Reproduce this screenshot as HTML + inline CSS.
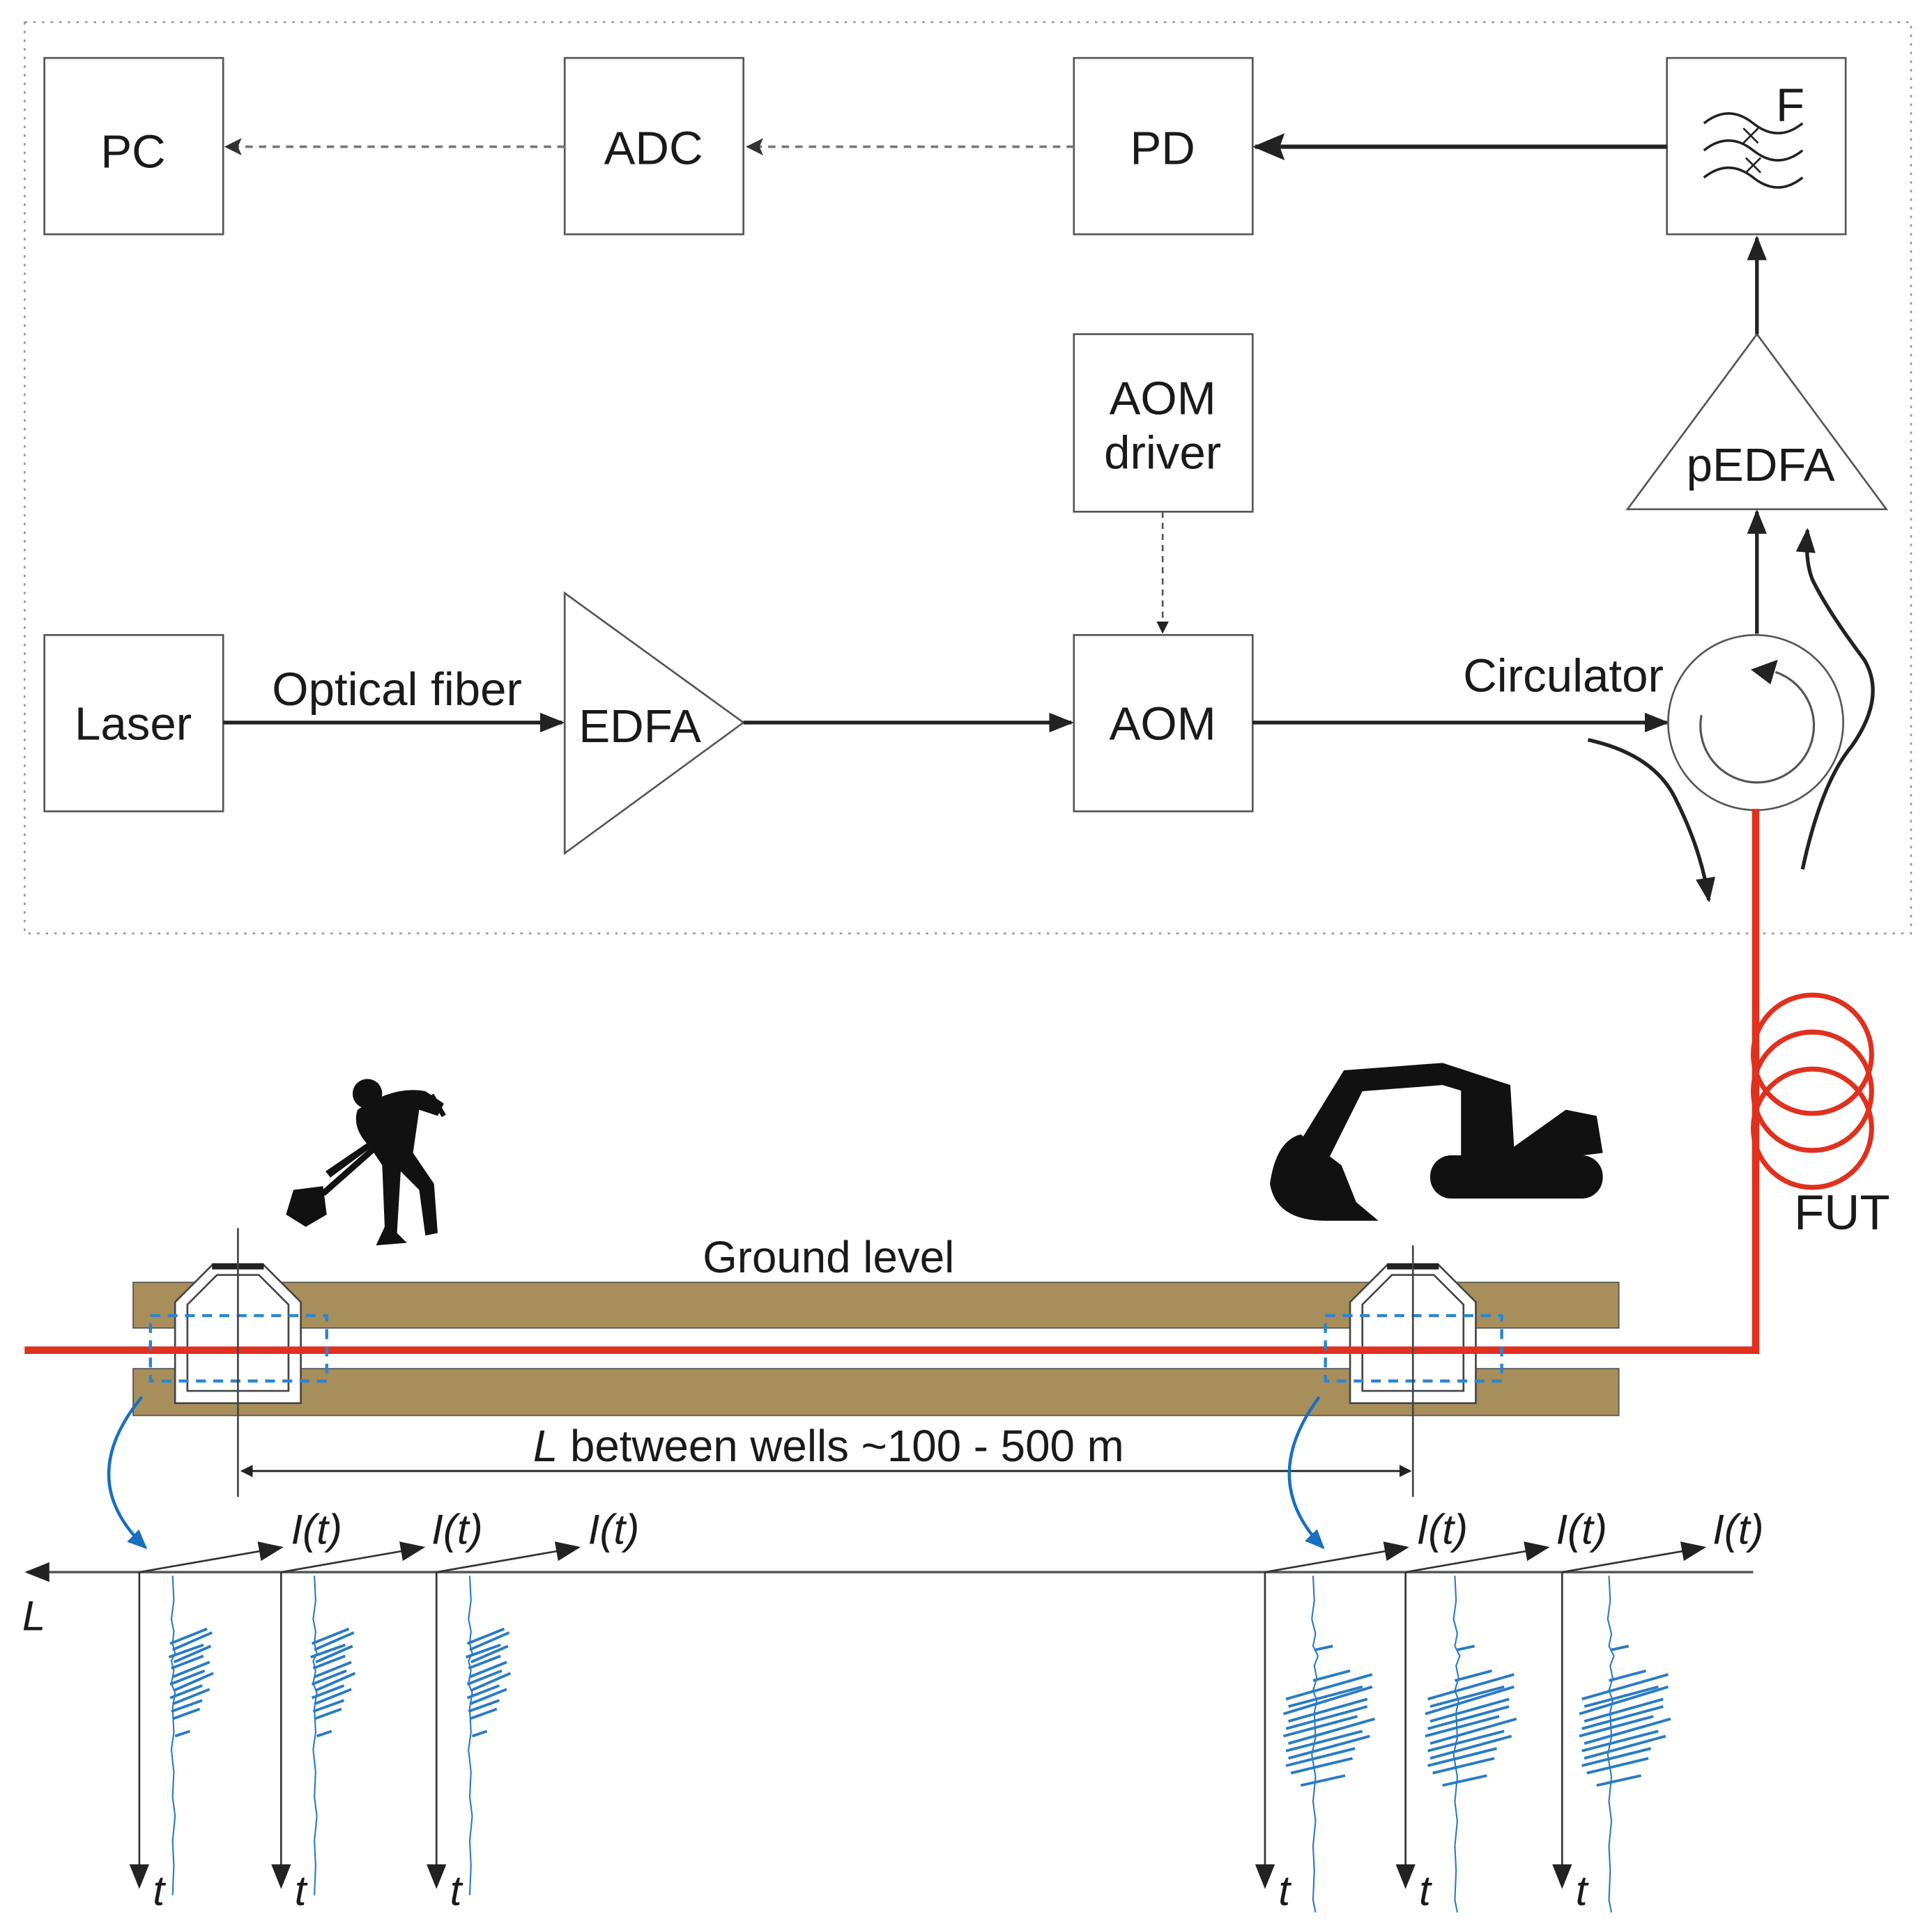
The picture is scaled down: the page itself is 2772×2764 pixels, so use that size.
<!DOCTYPE html>
<html><head><meta charset="utf-8"><style>
html,body{margin:0;padding:0;background:#fff}
svg{display:block}
text{font-family:"Liberation Sans",sans-serif;fill:#1a1a1a}
</style></head><body>
<svg width="2772" height="2764" viewBox="0 0 1567 1562" preserveAspectRatio="none" xmlns="http://www.w3.org/2000/svg">
<defs>
<marker id="ah" markerWidth="10" markerHeight="10" refX="9" refY="5" orient="auto" markerUnits="userSpaceOnUse"><path d="M0,0 L10,5 L0,10 Z" fill="#222"/></marker>
<marker id="ahb" markerWidth="26" markerHeight="22" refX="24" refY="11" orient="auto" markerUnits="userSpaceOnUse"><path d="M0,0 L26,11 L0,22 L4,11 Z" fill="#222"/></marker>
<marker id="ahm" markerWidth="20" markerHeight="16" refX="18" refY="8" orient="auto" markerUnits="userSpaceOnUse"><path d="M0,0 L20,8 L0,16 Z" fill="#222"/></marker>
<marker id="ahd" markerWidth="14" markerHeight="14" refX="13" refY="7" orient="auto" markerUnits="userSpaceOnUse"><path d="M0,0 L14,7 L0,14 L3,7 Z" fill="#333"/></marker>
<marker id="ahblue" markerWidth="16" markerHeight="14" refX="14" refY="7" orient="auto" markerUnits="userSpaceOnUse"><path d="M0,0 L16,7 L0,14 Z" fill="#1a6fc0"/></marker>
<g id="sigS" fill="none" stroke="#2a7bc4" stroke-width="1.2">
<path d="M0,0 l1,20 l-2,15 l2,10 l-1,10 l2,8 l-3,6 l2,8 l-2,10 l3,8 l-2,12 l1,20 l-2,14 l2,18 l-1,20 l2,16 l-2,20 l1,20 l-1,24"/>
<path d="M-2,55 l30,-12 M0,60 l32,-14 M-3,66 l28,-10 M1,70 l30,-13 M-1,75 l26,-10 M0,82 l30,-12 M-2,88 l28,-11 M1,93 l32,-14 M-2,99 l26,-10 M0,104 l30,-12 M-1,110 l25,-9 M0,116 l22,-8 M2,130 l12,-4" stroke-width="2.2"/>
</g>
<g id="sigB" fill="none" stroke="#2a7bc4" stroke-width="1.2">
<path d="M0,0 l1,20 l-2,15 l3,12 l-2,10 l4,8 l-3,8 l2,10 l-3,10 l3,8 l-2,10 l1,20 l-3,14 l3,18 l-2,20 l2,16 l-2,20 l1,20 l-1,24 l2,10"/>
<path d="M-22,100 l70,-20 M-20,106 l60,-16 M-24,112 l72,-22 M-20,118 l64,-18 M-22,124 l66,-18 M-24,130 l60,-16 M-20,136 l70,-20 M-22,142 l62,-16 M-20,148 l66,-18 M-22,154 l56,-14 M-18,160 l50,-12 M-10,170 l36,-8 M0,85 l30,-8 M2,60 l14,-3" stroke-width="2.2"/>
</g>
</defs>

<rect x="20" y="18" width="1530" height="739" fill="none" stroke="#999" stroke-width="1.5" stroke-dasharray="2,5"/>

<g fill="#fff" stroke="#555" stroke-width="1.5">
<rect x="36" y="47" width="145" height="143"/>
<rect x="458" y="47" width="145" height="143"/>
<rect x="871" y="47" width="145" height="143"/>
<rect x="1352" y="47" width="145" height="143"/>
<rect x="871" y="271" width="145" height="144"/>
<rect x="36" y="515" width="145" height="143"/>
<rect x="871" y="515" width="145" height="143"/>
<polygon points="458,481 458,692 603,586"/>
<polygon points="1425,271 1320,413 1530,413"/>
</g>
<g font-size="38" text-anchor="middle">
<text x="108" y="136">PC</text>
<text x="530" y="133">ADC</text>
<text x="943" y="133">PD</text>
<text x="943" y="336">AOM</text>
<text x="943" y="380">driver</text>
<text x="108" y="600">Laser</text>
<text x="943" y="600">AOM</text>
<text x="519" y="602">EDFA</text>
<text x="1428" y="390">pEDFA</text>
<text x="322" y="572">Optical fiber</text>
<text x="1268" y="561">Circulator</text>
<text x="1452" y="98">F</text>
</g>
<g fill="none" stroke="#222" stroke-width="2">
<path d="M1382,100 q20,-16 40,0 t40,0"/>
<path d="M1382,122 q20,-16 40,0 t40,0"/>
<path d="M1382,144 q20,-16 40,0 t40,0"/>
<path d="M1414,104 l12,12 M1426,104 l-12,12 M1416,128 l12,12 M1428,128 l-12,12" stroke-width="1.5"/>
</g>

<g stroke="#222" fill="none">
<line x1="1352" y1="119" x2="1018" y2="119" stroke-width="3.5" marker-end="url(#ahb)"/>
<line x1="871" y1="119" x2="606" y2="119" stroke="#777" stroke-width="2" stroke-dasharray="6,5" marker-end="url(#ahd)"/>
<line x1="458" y1="119" x2="183" y2="119" stroke="#777" stroke-width="2" stroke-dasharray="6,5" marker-end="url(#ahd)"/>
<line x1="943" y1="415" x2="943" y2="513" stroke="#555" stroke-width="1.5" stroke-dasharray="5,4" marker-end="url(#ah)"/>
<line x1="181" y1="586" x2="456" y2="586" stroke-width="3" marker-end="url(#ahm)"/>
<line x1="603" y1="586" x2="869" y2="586" stroke-width="3" marker-end="url(#ahm)"/>
<line x1="1016" y1="586" x2="1352" y2="586" stroke-width="3" marker-end="url(#ahm)"/>
<line x1="1425" y1="514" x2="1425" y2="415" stroke-width="3" marker-end="url(#ahm)"/>
<line x1="1425" y1="271" x2="1425" y2="193" stroke-width="3" marker-end="url(#ahm)"/>
</g>

<circle cx="1424" cy="586" r="71" fill="#fff" stroke="#555" stroke-width="1.5"/>
<path d="M1380,580 A46,46 0 1 0 1440,545" fill="none" stroke="#555" stroke-width="1.8"/>
<path d="M1420,543 l22,-8 l-6,20 Z" fill="#222"/>
<g fill="none" stroke="#222" stroke-width="3">
<path d="M1288,600 q55,12 72,50 q20,40 26,80" marker-end="url(#ahm)"/>
<path d="M1462,705 q15,-70 40,-100 q28,-40 10,-70 q-30,-40 -42,-65 q-6,-15 -4,-40" marker-end="url(#ahm)"/>
</g>

<path d="M1424,656 L1424,1095 L20,1095" fill="none" stroke="#e0301e" stroke-width="6"/>
<g fill="none" stroke="#e0301e" stroke-width="4">
<ellipse cx="1470" cy="855" rx="48" ry="48"/>
<ellipse cx="1470" cy="885" rx="48" ry="48"/>
<ellipse cx="1470" cy="915" rx="48" ry="48"/>
</g>
<text x="1494" y="997" font-size="40" text-anchor="middle">FUT</text>

<rect x="108" y="1040" width="1205" height="37" fill="#a88e5a" stroke="#555" stroke-width="1"/>
<rect x="108" y="1110" width="1205" height="38" fill="#a88e5a" stroke="#555" stroke-width="1"/>
<text x="672" y="1032" font-size="36" text-anchor="middle">Ground level</text>

<g id="well">
<path d="M172,1026 L214,1026 L244,1056 L244,1138 L142,1138 L142,1056 Z" fill="#fff" stroke="#444" stroke-width="1.5"/>
<path d="M176,1034 L210,1034 L234,1058 L234,1128 L152,1128 L152,1058 Z" fill="none" stroke="#444" stroke-width="1.5"/>
<line x1="172" y1="1027" x2="214" y2="1027" stroke="#222" stroke-width="5"/>
</g>
<use href="#well" transform="translate(953,0)"/>
<path d="M20,1095 L1424,1095" stroke="#e0301e" stroke-width="6"/>
<rect x="122" y="1067" width="143" height="53" fill="none" stroke="#2a86d0" stroke-width="2.5" stroke-dasharray="8,6"/>
<rect x="1075" y="1067" width="143" height="53" fill="none" stroke="#2a86d0" stroke-width="2.5" stroke-dasharray="8,6"/>

<g stroke="#444" stroke-width="1.5">
<line x1="193" y1="996" x2="193" y2="1214"/>
<line x1="1146" y1="1010" x2="1146" y2="1214"/>
</g>
<line x1="1144" y1="1193" x2="196" y2="1193" stroke="#222" stroke-width="1.5" marker-end="url(#ah)"/>
<line x1="196" y1="1193" x2="1144" y2="1193" stroke="#222" stroke-width="1.5" marker-end="url(#ah)"/>
<text x="672" y="1185" font-size="36" text-anchor="middle"><tspan font-style="italic">L</tspan> between wells ~100 - 500 m</text>

<path d="M115,1133 Q60,1200 118,1255" fill="none" stroke="#1a6fc0" stroke-width="2.5" marker-end="url(#ahblue)"/>
<path d="M1070,1133 Q1020,1200 1073,1255" fill="none" stroke="#1a6fc0" stroke-width="2.5" marker-end="url(#ahblue)"/>

<line x1="1422" y1="1275" x2="22" y2="1275" stroke="#555" stroke-width="2" marker-end="url(#ahm)"/>
<text x="18" y="1322" font-size="34" font-style="italic">L</text>

<g stroke="#333" stroke-width="1.5">
<line x1="113" y1="1275" x2="113" y2="1530" marker-end="url(#ahm)"/>
<line x1="228" y1="1275" x2="228" y2="1530" marker-end="url(#ahm)"/>
<line x1="354" y1="1275" x2="354" y2="1530" marker-end="url(#ahm)"/>
<line x1="1026" y1="1275" x2="1026" y2="1530" marker-end="url(#ahm)"/>
<line x1="1140" y1="1275" x2="1140" y2="1530" marker-end="url(#ahm)"/>
<line x1="1267" y1="1275" x2="1267" y2="1530" marker-end="url(#ahm)"/>
<line x1="113" y1="1275" x2="228" y2="1255" marker-end="url(#ahm)"/>
<line x1="228" y1="1275" x2="343" y2="1255" marker-end="url(#ahm)"/>
<line x1="354" y1="1275" x2="469" y2="1255" marker-end="url(#ahm)"/>
<line x1="1026" y1="1275" x2="1141" y2="1255" marker-end="url(#ahm)"/>
<line x1="1140" y1="1275" x2="1255" y2="1255" marker-end="url(#ahm)"/>
<line x1="1267" y1="1275" x2="1382" y2="1255" marker-end="url(#ahm)"/>
</g>
<g font-size="34" font-style="italic">
<text x="236" y="1252">I(t)</text><text x="350" y="1252">I(t)</text><text x="477" y="1252">I(t)</text>
<text x="1149" y="1252">I(t)</text><text x="1262" y="1252">I(t)</text><text x="1389" y="1252">I(t)</text>
<text x="124" y="1545">t</text><text x="239" y="1545">t</text><text x="365" y="1545">t</text>
<text x="1037" y="1545">t</text><text x="1151" y="1545">t</text><text x="1278" y="1545">t</text>
</g>

<use href="#sigS" transform="translate(140,1278)"/>
<use href="#sigS" transform="translate(255,1278)"/>
<use href="#sigS" transform="translate(381,1278)"/>
<use href="#sigB" transform="translate(1065,1278)"/>
<use href="#sigB" transform="translate(1180,1278)"/>
<use href="#sigB" transform="translate(1305,1278)"/>

<g fill="#111">
<circle cx="298" cy="887" r="12"/>
<path d="M290,900 Q320,880 345,885 L360,895 L355,905 L340,900 L335,935 L352,960 L355,1000 L345,1002 L340,965 L325,950 L322,1000 L330,1008 L305,1010 L312,995 L310,945 L300,930 Q285,915 290,900 Z"/>
<path d="M330,905 L322,915 L268,955 L264,950 Z"/>
<line x1="322" y1="915" x2="262" y2="968" stroke="#111" stroke-width="5"/>
<path d="M238,965 L262,962 L265,985 L248,995 L232,985 Z"/>
<line x1="350" y1="888" x2="360" y2="905" stroke="#111" stroke-width="4"/>
</g>
<g fill="#111">
<path d="M1030,960 Q1035,925 1055,920 L1088,945 L1100,975 L1118,990 L1075,990 Q1035,990 1030,960 Z"/>
<path d="M1055,925 L1090,868 L1170,862 L1225,880 L1220,895 L1170,880 L1105,885 L1075,945 Z"/>
<path d="M1185,882 L1225,880 L1228,930 L1270,900 L1295,905 L1300,935 L1220,945 L1185,940 Z"/>
<rect x="1160" y="937" width="140" height="35" rx="17"/>
</g>
</svg>
</body></html>
